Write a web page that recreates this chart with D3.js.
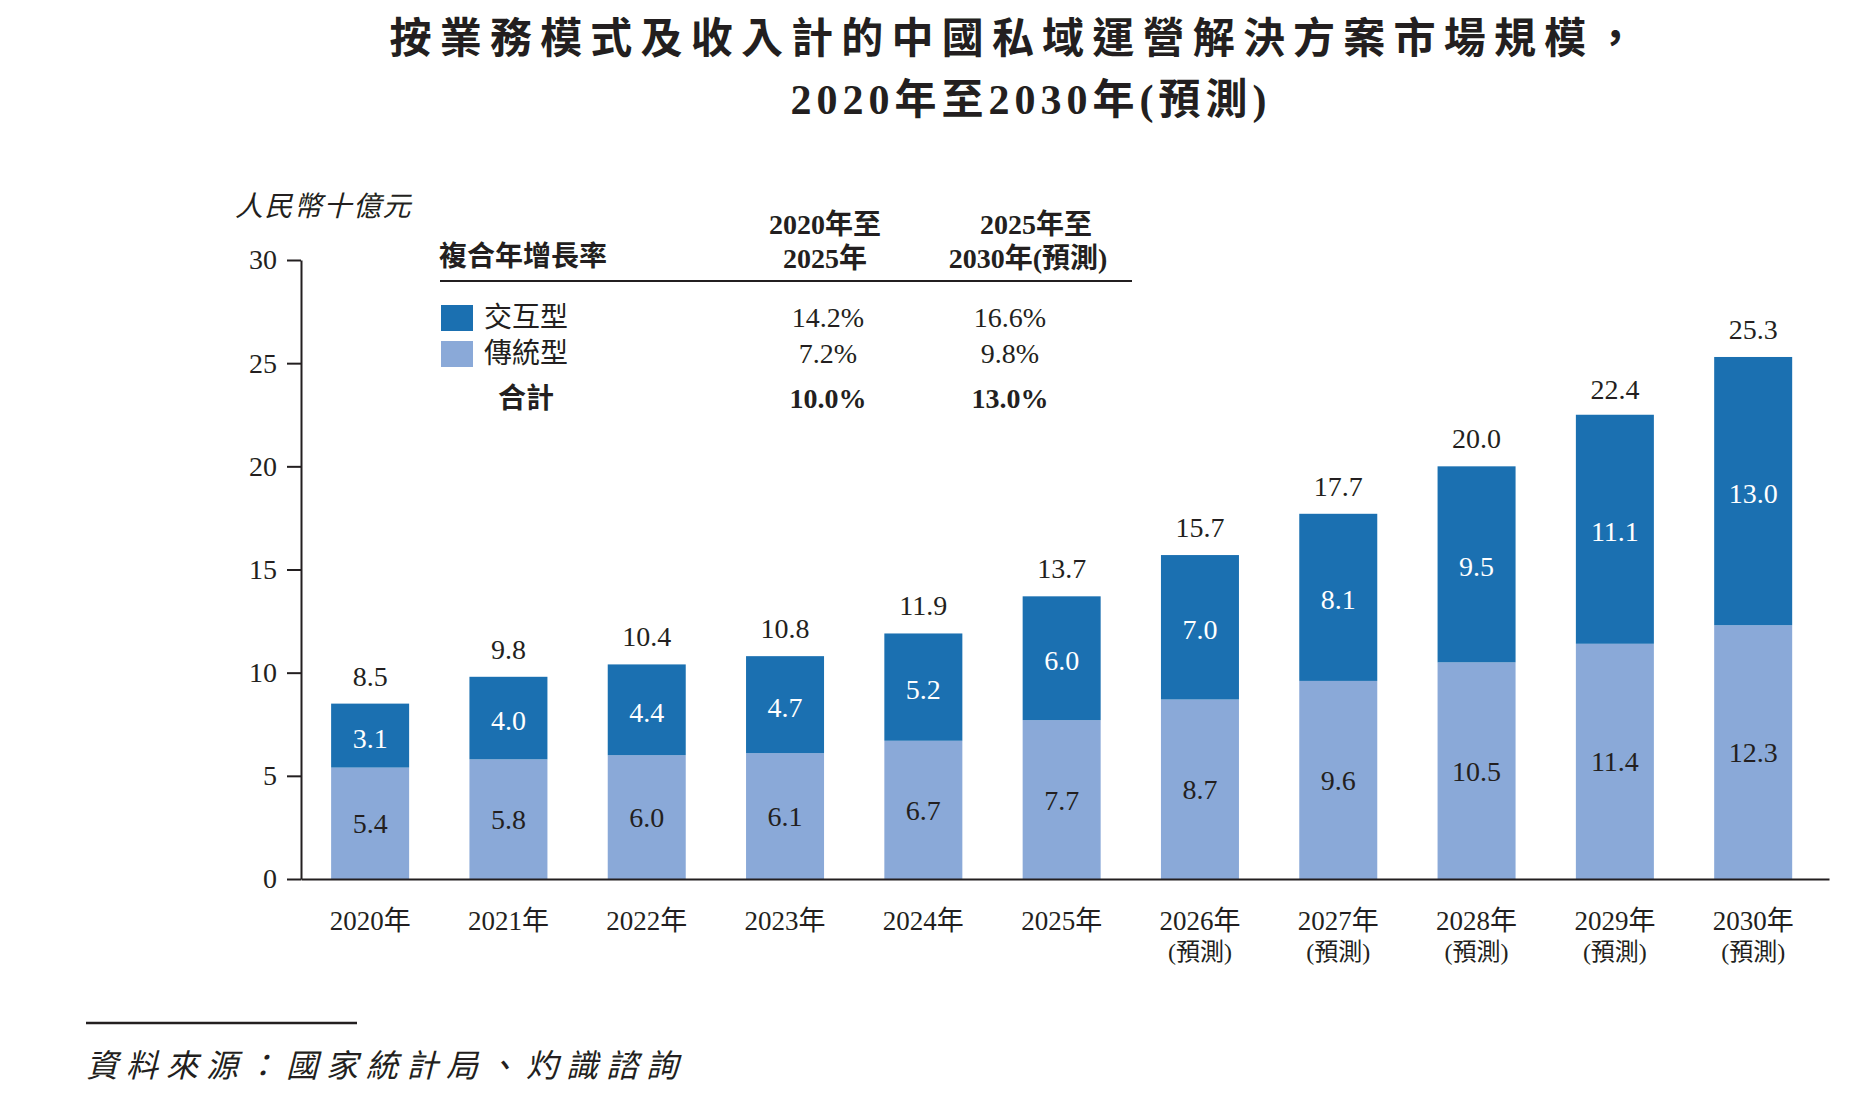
<!DOCTYPE html>
<html>
<head>
<meta charset="utf-8">
<script src="https://cdn.jsdelivr.net/npm/d3@7"></script>
<style>
  body { margin: 0; background: #fff; }
  svg text { font-family: "Liberation Serif", "Noto Sans CJK TC", serif; fill: #231f20; }
</style>
</head>
<body>
<svg width="1874" height="1116"></svg>
<script>
// chart data
var years = ['2020年', '2021年', '2022年', '2023年', '2024年', '2025年', '2026年', '2027年', '2028年', '2029年', '2030年'];
var forecast = [false, false, false, false, false, false, true, true, true, true, true];
var traditional = [5.4, 5.8, 6.0, 6.1, 6.7, 7.7, 8.7, 9.6, 10.5, 11.4, 12.3];
var interactive = [3.1, 4.0, 4.4, 4.7, 5.2, 6.0, 7.0, 8.1, 9.5, 11.1, 13.0];
var totals = [8.5, 9.8, 10.4, 10.8, 11.9, 13.7, 15.7, 17.7, 20.0, 22.4, 25.3];
var yTicks = [0, 5, 10, 15, 20, 25, 30];

// CAGR table
var cagrRows = ['交互型', '傳統型', '合計'];
var cagr2020 = ['14.2%', '7.2%', '10.0%'];
var cagr2025 = ['16.6%', '9.8%', '13.0%'];

var darkBlue = '#1b70b1';
var lightBlue = '#8aa9d8';

var svg = d3.select('svg');

// title
svg.append('text').attr('x', 1017).attr('y', 53).attr('text-anchor', 'middle')
  .attr('font-size', 42).attr('font-weight', 'bold').attr('letter-spacing', 8.2)
  .text('按業務模式及收入計的中國私域運營解決方案市場規模，');
svg.append('text').attr('x', 1031).attr('y', 114).attr('text-anchor', 'middle')
  .attr('font-size', 42).attr('font-weight', 'bold').attr('letter-spacing', 5)
  .text('2020年至2030年(預測)');

var y = d3.scaleLinear().domain([0, 30]).range([879, 260]);
var x = d3.scaleBand().domain(years).range([301, 1829])
  .paddingInner(0.436).paddingOuter(0.242).align(0.45);

// y axis
var yAxis = svg.append('g').attr('transform', 'translate(301,0)')
  .call(d3.axisLeft(y).tickValues(yTicks).tickSize(14).tickSizeOuter(0).tickPadding(10));
yAxis.selectAll('path, line').attr('stroke', '#231f20').attr('stroke-width', 2);
yAxis.selectAll('text').attr('font-size', 28).attr('font-family', null).attr('fill', '#231f20');

svg.append('text').attr('x', 235).attr('y', 216).attr('font-size', 28)
  .attr('font-style', 'italic').attr('letter-spacing', 1.5).text('人民幣十億元');

// bars
var rows = years.map(function (d, i) {
  return { year: d, t: traditional[i], n: interactive[i], total: totals[i], fc: forecast[i] };
});

var g = svg.append('g');
g.selectAll('rect.trad').data(rows).enter().append('rect')
  .attr('x', function (d) { return x(d.year); })
  .attr('y', function (d) { return y(d.t); })
  .attr('width', x.bandwidth())
  .attr('height', function (d) { return y(0) - y(d.t); })
  .attr('fill', lightBlue);
g.selectAll('rect.inter').data(rows).enter().append('rect')
  .attr('x', function (d) { return x(d.year); })
  .attr('y', function (d) { return y(d.t + d.n); })
  .attr('width', x.bandwidth())
  .attr('height', function (d) { return y(d.t) - y(d.t + d.n); })
  .attr('fill', darkBlue);

var cx = function (d) { return x(d.year) + x.bandwidth() / 2; };

g.selectAll('text.tl').data(rows).enter().append('text')
  .attr('x', cx).attr('y', function (d) { return (y(0) + y(d.t)) / 2 + 10; })
  .attr('text-anchor', 'middle').attr('font-size', 28).style('fill', '#231f20')
  .text(function (d) { return d.t.toFixed(1); });
g.selectAll('text.nl').data(rows).enter().append('text')
  .attr('x', cx).attr('y', function (d) { return (y(d.t) + y(d.t + d.n)) / 2 + 12; })
  .attr('text-anchor', 'middle').attr('font-size', 28).style('fill', '#fff')
  .text(function (d) { return d.n.toFixed(1); });
g.selectAll('text.tot').data(rows).enter().append('text')
  .attr('x', cx).attr('y', function (d) { return y(d.total) - 18; })
  .attr('text-anchor', 'middle').attr('font-size', 28)
  .text(function (d) { return d.total.toFixed(1); });

// x axis
var xAxis = svg.append('g').attr('transform', 'translate(0,879)')
  .call(d3.axisBottom(x).tickSize(0).tickSizeOuter(0).tickFormat(''));
xAxis.select('path').attr('stroke', '#231f20').attr('stroke-width', 2);

svg.selectAll('text.xl').data(rows).enter().append('text')
  .attr('x', cx).attr('y', 930).attr('text-anchor', 'middle').attr('font-size', 27)
  .text(function (d) { return d.year; });
svg.selectAll('text.xf').data(rows.filter(function (d) { return d.fc; })).enter().append('text')
  .attr('x', cx).attr('y', 960).attr('text-anchor', 'middle').attr('font-size', 24)
  .text('(預測)');

// CAGR table
var col1 = 825, col2 = 1010;
svg.append('text').attr('x', 439).attr('y', 266).attr('font-size', 28).attr('font-weight', 'bold')
  .text('複合年增長率');
svg.append('text').attr('x', col1).attr('y', 234).attr('text-anchor', 'middle')
  .attr('font-size', 28).attr('font-weight', 'bold').text('2020年至');
svg.append('text').attr('x', col1).attr('y', 268).attr('text-anchor', 'middle')
  .attr('font-size', 28).attr('font-weight', 'bold').text('2025年');
svg.append('text').attr('x', 1036).attr('y', 234).attr('text-anchor', 'middle')
  .attr('font-size', 28).attr('font-weight', 'bold').text('2025年至');
svg.append('text').attr('x', 1028).attr('y', 268).attr('text-anchor', 'middle')
  .attr('font-size', 28).attr('font-weight', 'bold').text('2030年(預測)');
svg.append('line').attr('x1', 440).attr('x2', 1132).attr('y1', 281).attr('y2', 281)
  .attr('stroke', '#231f20').attr('stroke-width', 2);

var rowY = [327, 363, 408];
var swatch = [darkBlue, lightBlue];
swatch.forEach(function (c, i) {
  svg.append('rect').attr('x', 441).attr('y', rowY[i] - 22).attr('width', 32).attr('height', 26).attr('fill', c);
});
cagrRows.forEach(function (r, i) {
  var bold = i === 2;
  svg.append('text').attr('x', bold ? 526 : 484).attr('y', rowY[i])
    .attr('text-anchor', bold ? 'middle' : 'start')
    .attr('font-size', 28).attr('font-weight', bold ? 'bold' : 'normal').text(r);
  svg.append('text').attr('x', col1 + 3).attr('y', rowY[i]).attr('text-anchor', 'middle')
    .attr('font-size', 28).attr('font-weight', bold ? 'bold' : 'normal').text(cagr2020[i]);
  svg.append('text').attr('x', col2).attr('y', rowY[i]).attr('text-anchor', 'middle')
    .attr('font-size', 28).attr('font-weight', bold ? 'bold' : 'normal').text(cagr2025[i]);
});

// source
svg.append('line').attr('x1', 86).attr('x2', 357).attr('y1', 1023).attr('y2', 1023)
  .attr('stroke', '#231f20').attr('stroke-width', 2.5);
svg.append('text').attr('x', 86).attr('y', 1077).attr('font-size', 32)
  .attr('font-style', 'italic').attr('letter-spacing', 8)
  .text('資料來源：國家統計局、灼識諮詢');
</script>
</body>
</html>
